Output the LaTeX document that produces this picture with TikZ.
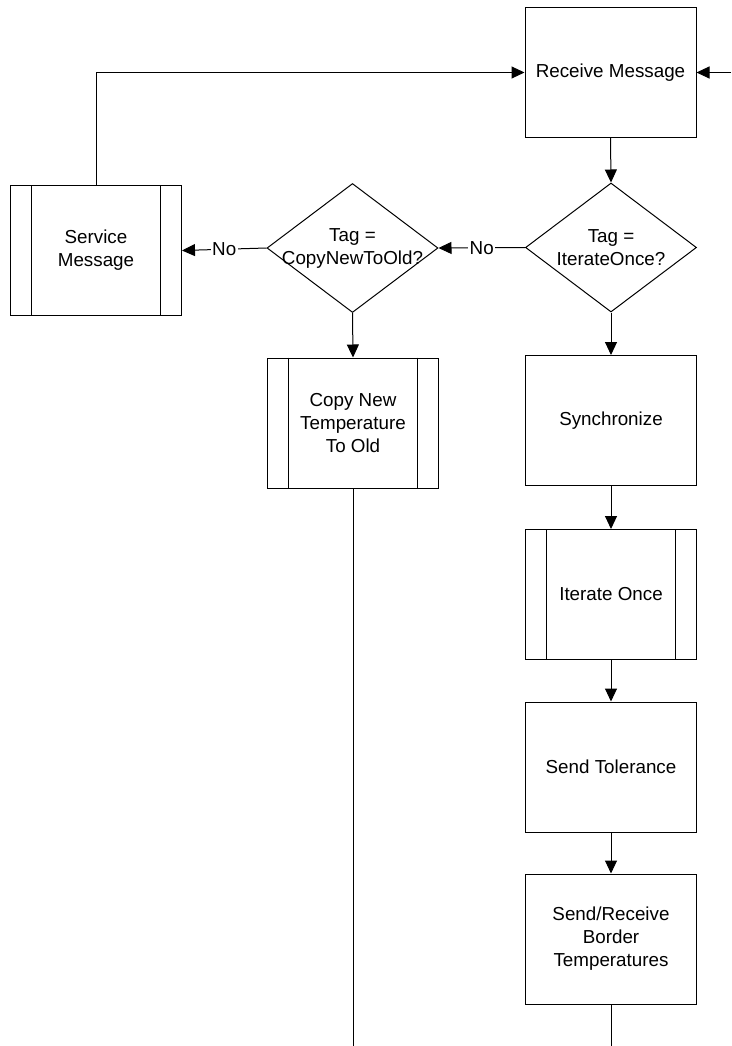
\documentclass[tikz,border=0pt]{standalone}
\usepackage{fontspec}
\setmainfont{Liberation Sans}
\usetikzlibrary{shapes.geometric,arrows.meta}
\begin{document}
\begin{tikzpicture}[x=1pt,y=-1pt,
  box/.style={draw, line width=1pt, minimum width=171pt, minimum height=130pt, inner sep=0pt, align=center, font=\fontsize{18.8}{23}\selectfont},
  dec/.style={draw, diamond, line width=1pt, minimum width=171pt, minimum height=129pt, inner sep=0pt},
  txt/.style={align=center, font=\fontsize{18.8}{23}\selectfont, inner sep=0pt},
  arr/.style={line width=1pt, -{Triangle[length=13pt,width=12pt]}},
  ln/.style={line width=1pt},
  nolab/.style={fill=white, inner sep=1.5pt, font=\fontsize{18.8}{23}\selectfont}]
\fill[white] (0,0) rectangle (731,1046);
\useasboundingbox (0,0) rectangle (731,1046);

% nodes
\node[box] (recv) at (610.5,72.5) {Receive Message};
\node[dec] (iter) at (611,247.5) {};
\node[txt] (itert) at (iter.center) {Tag =\\IterateOnce?};
\node[dec] (copyq) at (352.5,248) {};
\node[txt] (copyqt) at (copyq.center) {Tag =\\CopyNewToOld?};
\node[box] (serv) at (96,250.5) {Service\\Message};
\node[box] (copy) at (353,423) {Copy New\\Temperature\\To Old};
\node[box] (sync) at (611,420.5) {Synchronize};
\node[box] (itone) at (611,594.5) {Iterate Once};
\node[box] (tol) at (611,767) {Send Tolerance};
\node[box] (sr) at (611,939) {Send/Receive\\Border\\Temperatures};

% inner lines of predefined processes
\foreach \n in {serv,copy,itone}{
  \draw[ln] ([xshift=21.5pt]\n.north west) -- ([xshift=21.5pt]\n.south west);
  \draw[ln] ([xshift=-21.5pt]\n.north east) -- ([xshift=-21.5pt]\n.south east);
}

% free ends
\coordinate (inR) at (731,72.5);
\coordinate (outL) at (353,1046);
\coordinate (outR) at (611,1046);

% connectors
\draw[arr] (inR) -- (recv.east);
\draw[arr] (serv.north) |- (recv.west);
\draw[arr] (recv.south) -- (iter.north);
\draw[arr] (iter.west) -- node[nolab] (no1) {No} (copyq.east);
\draw[arr] (copyq.west) -- node[nolab] (no2) {No} (serv.east);
\draw[arr] (copyq.south) -- (copy.north);
\draw[ln] (copy.south) -- (outL);
\draw[arr] (iter.south) -- (sync.north);
\draw[arr] (sync.south) -- (itone.north);
\draw[arr] (itone.south) -- (tol.north);
\draw[arr] (tol.south) -- (sr.north);
\draw[ln] (sr.south) -- (outR);
\end{tikzpicture}
\end{document}
